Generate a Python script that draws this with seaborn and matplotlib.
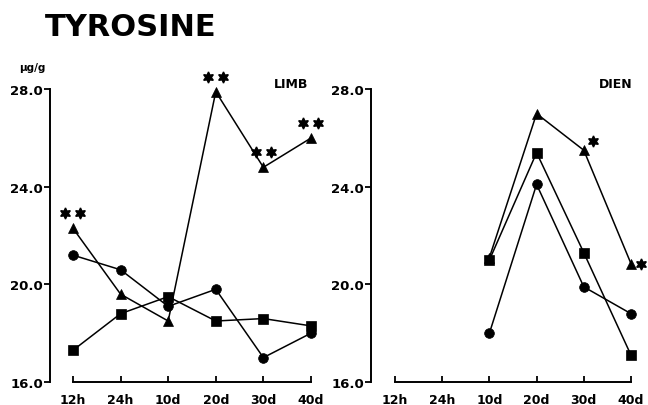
import seaborn as sns
import matplotlib.pyplot as plt
import matplotlib.transforms as mtransforms
import pandas as pd

# values (ug/g)
times = ['12h', '24h', '10d', '20d', '30d', '40d']
limb_triangle = [22.3, 19.6, 18.5, 27.9, 24.8, 26.0]
limb_circle = [21.2, 20.6, 19.1, 19.8, 17.0, 18.0]
limb_square = [17.3, 18.8, 19.5, 18.5, 18.6, 18.3]

dien_times = ['10d', '20d', '30d', '40d']
dien_triangle = [21.1, 27.0, 25.5, 20.85]
dien_square = [21.0, 25.4, 21.3, 17.1]
dien_circle = [18.0, 24.1, 19.9, 18.8]

yticks = [16.0, 20.0, 24.0, 28.0]
# significance stars on the triangle series: time point -> number of stars
limb_stars = {'12h': 2, '20d': 2, '30d': 2, '40d': 2}
dien_stars = {'30d': 1, '40d': 1}

# where the stars sit relative to their point (pixels)
limb_star_offsets = {'12h': [(-7.5, 15), (7.5, 15)], '20d': [(-7.5, 15), (7.5, 15)],
                     '30d': [(-7.5, 15), (7.5, 15)], '40d': [(-7.5, 15), (7.5, 15)]}
dien_star_offsets = {'30d': [(9, 9)], '40d': [(10, 0)]}


def long_frame(tlist, series):
    rows = []
    for name, vals in series.items():
        for t, v in zip(tlist, vals):
            rows.append({'pos': times.index(t), 'value': v, 'group': name})
    return pd.DataFrame(rows)


def draw_panel(ax, df, tri_times, tri_vals, stars, star_offsets, label, label_x):
    sns.lineplot(data=df, x='pos', y='value', style='group', units='group',
                 estimator=None, markers={'tri': '^', 'circ': 'o', 'sq': 's'},
                 dashes=False, color='black', legend=False, ax=ax,
                 linewidth=1.1, markersize=7, markeredgecolor='black',
                 markeredgewidth=0.5, sort=False)
    for t, n in stars.items():
        v = tri_vals[tri_times.index(t)]
        for dx, dy in star_offsets[t][:n]:
            tr = mtransforms.offset_copy(ax.transData, fig=ax.figure,
                                         x=dx, y=dy, units='dots')
            ax.plot([times.index(t)], [v], marker=(6, 1, 0), markersize=8,
                    color='black', transform=tr, clip_on=False)
    ax.set_ylim(16, 29.24)
    ax.set_yticks(yticks)
    ax.set_yticklabels([f'{y:.1f}' for y in yticks])
    ax.set_xticks(range(len(times)))
    ax.set_xticklabels(times)
    ax.set_xlabel('')
    ax.set_ylabel('')
    ax.spines['top'].set_visible(False)
    ax.spines['right'].set_visible(False)
    ax.spines['left'].set_bounds(16, 28)
    ax.spines['bottom'].set_bounds(0, 5)
    for s in ('left', 'bottom'):
        ax.spines[s].set_linewidth(1.4)
    ax.tick_params(axis='y', direction='out', length=4, width=1.3, pad=1,
                   labelsize=9.5)
    ax.tick_params(axis='x', direction='in', length=4, width=1.3, pad=8,
                   labelsize=9)
    ax.text(label_x, 28.25, label, fontsize=9, fontweight='bold',
            ha='center', va='center')


sns.set_style('ticks')
plt.rcParams['font.family'] = ['DejaVu Sans']
plt.rcParams['font.weight'] = 'bold'
for key in ('text.color', 'axes.labelcolor', 'xtick.color', 'ytick.color',
            'axes.edgecolor'):
    plt.rcParams[key] = 'black'

fig = plt.figure(figsize=(6.48, 4.06), dpi=100)
W, H = 648, 406
ax1 = fig.add_axes([50 / W, (H - 383) / H, 280 / W, 323 / H])
ax2 = fig.add_axes([371 / W, (H - 383) / H, 277 / W, 323 / H])

limb_df = long_frame(times, {'tri': limb_triangle, 'circ': limb_circle,
                             'sq': limb_square})
dien_df = long_frame(dien_times, {'tri': dien_triangle, 'circ': dien_circle,
                                  'sq': dien_square})

draw_panel(ax1, limb_df, times, limb_triangle, limb_stars,
           limb_star_offsets, 'LIMB', 4.58)
ax1.set_xlim(-0.483, 5.40)

draw_panel(ax2, dien_df, dien_times, dien_triangle, dien_stars,
           dien_star_offsets, 'DIEN', 4.68)
ax2.set_xlim(-0.508, 5.36)

fig.text(32 / W, 1 - 68 / H, '\u03bcg/g', fontsize=7.5, fontweight='bold',
         ha='center', va='center')
fig.text(131 / W, 1 - 27 / H, 'TYROSINE', fontsize=22, fontweight='bold',
         ha='center', va='center')

fig.savefig('out.png', dpi=100)
plt.close(fig)
